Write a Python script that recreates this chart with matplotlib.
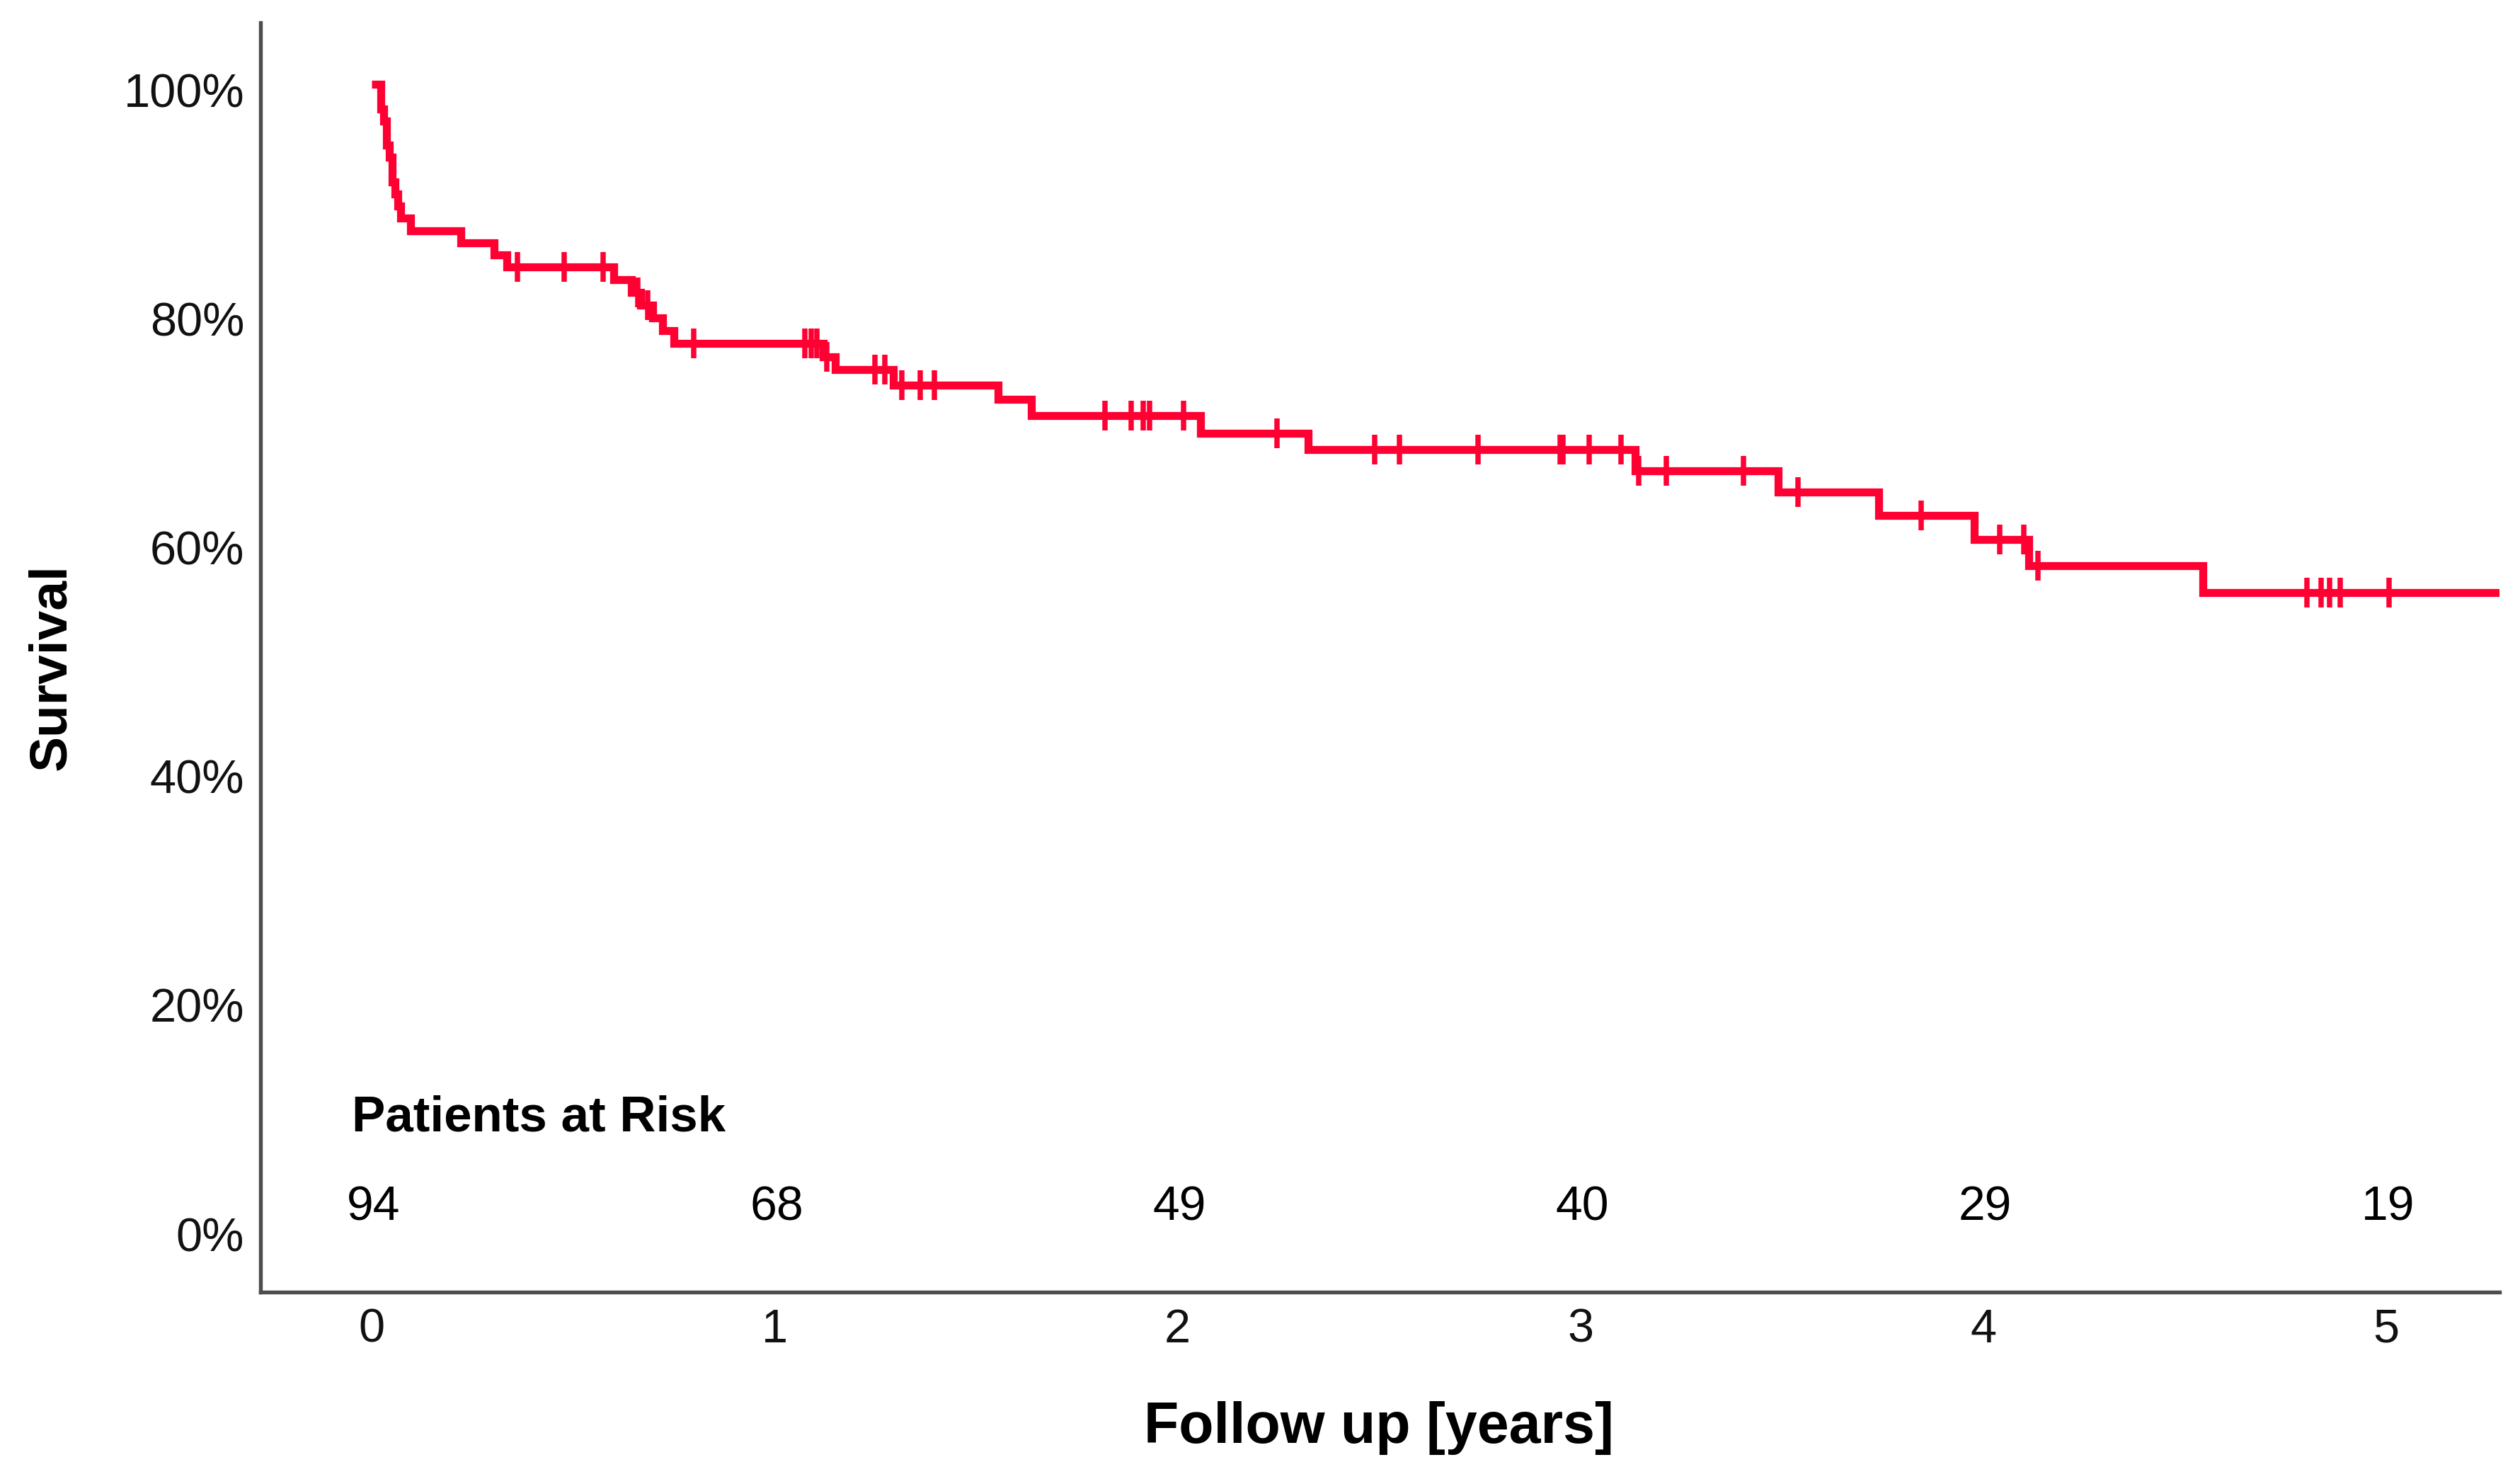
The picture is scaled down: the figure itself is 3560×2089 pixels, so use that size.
import matplotlib
matplotlib.use('Agg')
import matplotlib.pyplot as plt
import numpy as np
from matplotlib.transforms import ScaledTranslation

plt.rcParams['font.family'] = ['Liberation Sans', 'DejaVu Sans']

# ---- data ----
step_times = [0.0, 0.023, 0.029, 0.037, 0.044, 0.051, 0.058, 0.064, 0.072, 0.097,
              0.222, 0.303, 0.335, 0.600, 0.645, 0.668, 0.697, 0.722, 0.750,
              1.120, 1.150, 1.294, 1.555, 1.637, 2.058, 2.325, 3.135, 3.490,
              3.740, 3.978, 4.112, 4.545]
step_surv = [100.0, 97.87, 96.81, 94.68, 93.62, 91.49, 90.43, 89.36, 88.30, 87.23,
             86.17, 85.11, 84.04, 82.93, 81.82, 80.70, 79.60, 78.47, 77.35,
             76.20, 75.05, 73.74, 72.50, 71.06, 69.50, 68.07, 66.20, 64.36,
             62.30, 60.20, 57.96, 55.60]
censor_times = [0.361, 0.477, 0.575, 0.660, 0.685, 0.800, 1.075, 1.090, 1.105,
                1.130, 1.249, 1.274, 1.315, 1.362, 1.397, 1.820, 1.885, 1.915,
                1.930, 2.015, 2.246, 2.489, 2.550, 2.745, 2.949, 2.957, 3.021,
                3.101, 3.145, 3.213, 3.405, 3.540, 3.845, 4.040, 4.100, 4.136,
                4.804, 4.838, 4.860, 4.885, 5.007]
end_time = 5.285

risk_years = [0, 1, 2, 3, 4, 5]
risk_counts = [94, 68, 49, 40, 29, 19]

x_ticks = [0, 1, 2, 3, 4, 5]
y_ticks = [0, 20, 40, 60, 80, 100]
y_tick_labels = ['0%', '20%', '40%', '60%', '80%', '100%']

RED = '#ff0033'
SPINE = '#4d4d4d'
W, H, DPI = 3561, 2089, 300

fig = plt.figure(figsize=(W / DPI, H / DPI), dpi=DPI)
ax = fig.add_axes([368 / W, 1 - 1825 / H, (3531 - 368) / W, (1825 - 32) / H])

xs = step_times + [end_time]
ys = step_surv + [step_surv[-1]]
ax.step(xs, ys, where='post', color=RED, lw=2.7,
        solid_capstyle='butt', solid_joinstyle='miter', zorder=3)

st = np.array(step_times)
sv = np.array(step_surv)
idx = np.searchsorted(st, np.array(censor_times), side='right') - 1
censor_surv = sv[idx]
ax.plot(censor_times, censor_surv, ls='none', marker='|', ms=10, mew=1.8,
        color=RED, zorder=4)

for yr, n in zip(risk_years, risk_counts):
    ax.text(yr + 0.005, 1.8, str(n), ha='center', va='center', fontsize=16.3,
            color='black')
ax.text(-0.049, 9.6, 'Patients at Risk', ha='left', va='center',
        fontsize=17, fontweight='bold', color='black')

ax.set_xlim(-0.276, 5.281)
ax.set_ylim(-5.57, 105.4)
ax.set_xticks(x_ticks)
ax.set_xticklabels([str(t) for t in x_ticks])
ax.set_yticks(y_ticks)
ax.set_yticklabels(y_tick_labels)
ax.tick_params(axis='both', length=0, labelsize=16, colors='#111111')
ax.tick_params(axis='y', pad=5.5)
ax.tick_params(axis='x', pad=5.5)

offset = ScaledTranslation(0, -8 / DPI, fig.dpi_scale_trans)
for lab in ax.get_yticklabels():
    lab.set_transform(lab.get_transform() + offset)

for s in ['top', 'right']:
    ax.spines[s].set_visible(False)
for s in ['left', 'bottom']:
    ax.spines[s].set_color(SPINE)
    ax.spines[s].set_linewidth(1.3)

fig.text(73 / W, 1 - 942 / H, 'Survival', rotation=90, ha='center',
         va='center', fontsize=18, fontweight='bold')
fig.text(1948 / W, 1 - 2017 / H, 'Follow up [years]', ha='center',
         va='center', fontsize=19.4, fontweight='bold')

fig.savefig('out.png', dpi=DPI, facecolor='white')
